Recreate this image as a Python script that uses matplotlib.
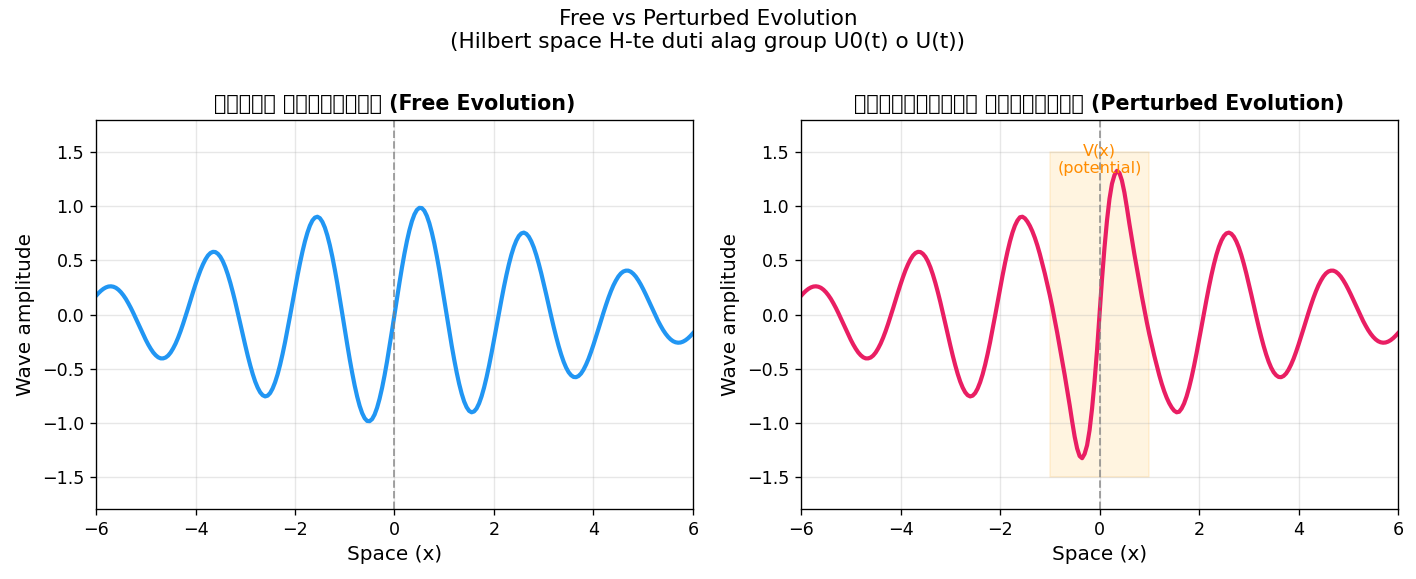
import matplotlib
matplotlib.use('Agg')
import numpy as np
import matplotlib.pyplot as plt

# ---------- data (step 0.05 on x) ----------
x = np.linspace(-6, 6, 241)

free_wave = [
    0.173, 0.198, 0.220, 0.238, 0.251, 0.259, 0.261, 0.257, 0.247, 0.230,
    0.207, 0.178, 0.144, 0.104, 0.061, 0.014, -0.036, -0.087, -0.137, -0.187,
    -0.234, -0.278, -0.317, -0.351, -0.377, -0.396, -0.406, -0.406, -0.398, -0.380,
    -0.352, -0.314, -0.269, -0.215, -0.154, -0.087, -0.016, 0.057, 0.133, 0.207,
    0.279, 0.347, 0.410, 0.464, 0.510, 0.546, 0.569, 0.580, 0.578, 0.562,
    0.534, 0.492, 0.437, 0.370, 0.293, 0.207, 0.115, 0.017, -0.084, -0.186,
    -0.285, -0.381, -0.470, -0.551, -0.621, -0.677, -0.720, -0.747, -0.758, -0.751,
    -0.727, -0.685, -0.627, -0.554, -0.466, -0.366, -0.256, -0.137, -0.014, 0.112,
    0.237, 0.359, 0.475, 0.582, 0.677, 0.758, 0.823, 0.870, 0.897, 0.905,
    0.892, 0.858, 0.805, 0.732, 0.642, 0.536, 0.417, 0.288, 0.150, 0.008,
    -0.135, -0.277, -0.414, -0.541, -0.658, -0.760, -0.846, -0.913, -0.960, -0.985,
    -0.987, -0.968, -0.926, -0.863, -0.780, -0.680, -0.564, -0.435, -0.295, -0.149,
    0.0,
    0.149, 0.295, 0.435, 0.564, 0.680, 0.780, 0.863, 0.926, 0.968, 0.987,
    0.985, 0.960, 0.913, 0.846, 0.760, 0.658, 0.541, 0.414, 0.277, 0.135,
    -0.008, -0.150, -0.288, -0.417, -0.536, -0.642, -0.732, -0.805, -0.858, -0.892,
    -0.905, -0.897, -0.870, -0.823, -0.758, -0.677, -0.582, -0.475, -0.359, -0.237,
    -0.112, 0.014, 0.137, 0.256, 0.366, 0.466, 0.554, 0.627, 0.685, 0.727,
    0.751, 0.758, 0.747, 0.720, 0.677, 0.621, 0.551, 0.470, 0.381, 0.285,
    0.186, 0.084, -0.017, -0.115, -0.207, -0.293, -0.370, -0.437, -0.492, -0.534,
    -0.562, -0.578, -0.580, -0.569, -0.546, -0.510, -0.464, -0.410, -0.347, -0.279,
    -0.207, -0.133, -0.057, 0.016, 0.087, 0.154, 0.215, 0.269, 0.314, 0.352,
    0.380, 0.398, 0.406, 0.406, 0.396, 0.377, 0.351, 0.317, 0.278, 0.234,
    0.187, 0.137, 0.087, 0.036, -0.014, -0.061, -0.104, -0.144, -0.178, -0.207,
    -0.230, -0.247, -0.257, -0.261, -0.259, -0.251, -0.238, -0.220, -0.198, -0.173,
]

perturbed_wave = [
    0.173, 0.198, 0.220, 0.238, 0.251, 0.259, 0.261, 0.257, 0.247, 0.230,
    0.207, 0.178, 0.144, 0.104, 0.061, 0.014, -0.036, -0.087, -0.137, -0.187,
    -0.234, -0.278, -0.317, -0.351, -0.377, -0.396, -0.406, -0.406, -0.398, -0.380,
    -0.352, -0.314, -0.269, -0.215, -0.154, -0.087, -0.016, 0.057, 0.133, 0.207,
    0.279, 0.347, 0.410, 0.464, 0.510, 0.546, 0.569, 0.580, 0.578, 0.562,
    0.534, 0.492, 0.437, 0.370, 0.293, 0.207, 0.115, 0.017, -0.084, -0.186,
    -0.285, -0.381, -0.470, -0.551, -0.621, -0.677, -0.720, -0.747, -0.758, -0.751,
    -0.727, -0.685, -0.627, -0.554, -0.466, -0.366, -0.256, -0.137, -0.014, 0.112,
    0.237, 0.359, 0.475, 0.582, 0.677, 0.758, 0.823, 0.870, 0.900, 0.905,
    0.890, 0.860, 0.820, 0.770, 0.710, 0.640, 0.560, 0.470, 0.380, 0.280,
    0.180, 0.070, -0.050, -0.170, -0.300, -0.430, -0.560, -0.700, -0.840, -0.990,
    -1.130, -1.240, -1.310, -1.330, -1.290, -1.210, -1.070, -0.870, -0.620, -0.330,
    0.0,
    0.330, 0.620, 0.870, 1.070, 1.210, 1.290, 1.330, 1.310, 1.240, 1.130,
    0.990, 0.840, 0.700, 0.560, 0.430, 0.300, 0.170, 0.050, -0.070, -0.180,
    -0.280, -0.380, -0.470, -0.560, -0.640, -0.710, -0.770, -0.820, -0.860, -0.890,
    -0.905, -0.900, -0.870, -0.823, -0.758, -0.677, -0.582, -0.475, -0.359, -0.237,
    -0.112, 0.014, 0.137, 0.256, 0.366, 0.466, 0.554, 0.627, 0.685, 0.727,
    0.751, 0.758, 0.747, 0.720, 0.677, 0.621, 0.551, 0.470, 0.381, 0.285,
    0.186, 0.084, -0.017, -0.115, -0.207, -0.293, -0.370, -0.437, -0.492, -0.534,
    -0.562, -0.578, -0.580, -0.569, -0.546, -0.510, -0.464, -0.410, -0.347, -0.279,
    -0.207, -0.133, -0.057, 0.016, 0.087, 0.154, 0.215, 0.269, 0.314, 0.352,
    0.380, 0.398, 0.406, 0.406, 0.396, 0.377, 0.351, 0.317, 0.278, 0.234,
    0.187, 0.137, 0.087, 0.036, -0.014, -0.061, -0.104, -0.144, -0.178, -0.207,
    -0.230, -0.247, -0.257, -0.261, -0.259, -0.251, -0.238, -0.220, -0.198, -0.173,
]

potential_x = [-1, 1]
potential_y = [-1.5, 1.5]

titles = ['মুক্ত পরিবর্তন (Free Evolution)',
          'বিশৃঙ্খলিত পরিবর্তন (Perturbed Evolution)']

# ---------- figure ----------
fig, axes = plt.subplots(1, 2, figsize=(11.8, 4.825), dpi=120)
fig.subplots_adjust(left=0.0678, right=0.9873, bottom=0.1209, top=0.7927, wspace=0.181)

fig.suptitle('Free vs Perturbed Evolution\n(Hilbert space H-te duti alag group U0(t) o U(t))',
             fontsize=13, y=0.985)

# bam dik: free
ax = axes[0]
ax.plot(x, free_wave, color='#2196F3', lw=2.5)
ax.axvline(0, color='gray', ls='--', alpha=0.7, lw=1.2)
ax.set_title(titles[0], fontsize=12.4, fontweight='bold')

# dan dik: perturbed
ax = axes[1]
ax.fill_between(potential_x, potential_y[0], potential_y[1], color='orange', alpha=0.12)
ax.plot(x, perturbed_wave, color='#E91E63', lw=2.5)
ax.axvline(0, color='gray', ls='--', alpha=0.7, lw=1.2)
ax.text(0, 1.43, 'V(x)\n(potential)', ha='center', va='center', fontsize=9.7, color='darkorange')
ax.set_title(titles[1], fontsize=12.4, fontweight='bold')

for ax in axes:
    ax.set_xlim(-6, 6)
    ax.set_ylim(-1.8, 1.8)
    ax.set_xlabel('Space (x)', fontsize=12)
    ax.set_ylabel('Wave amplitude', fontsize=12)
    ax.tick_params(labelsize=10.5)
    ax.grid(True, alpha=0.3)

fig.savefig('out.png', dpi=120)
